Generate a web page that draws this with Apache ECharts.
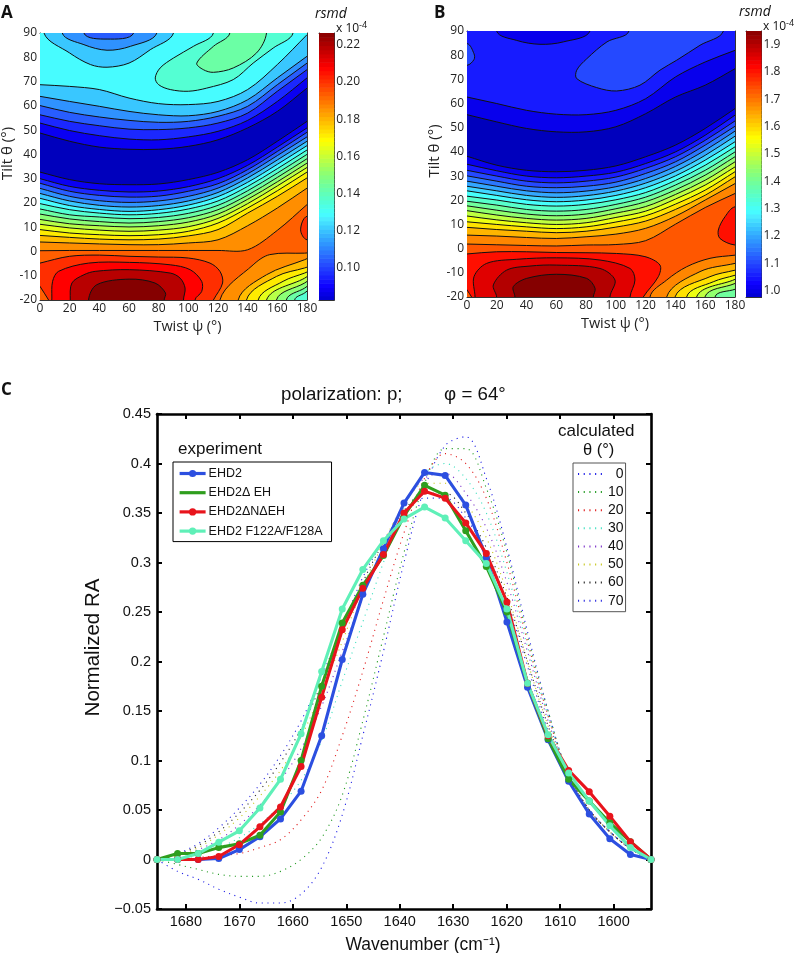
<!DOCTYPE html>
<html><head><meta charset="utf-8">
<style>html,body{margin:0;padding:0;background:#fff}#c{width:795px;height:953px}</style>
<script src="https://cdn.jsdelivr.net/npm/echarts@6/dist/echarts.min.js"></script>
</head><body><div id="c"></div>
<script>
// ---------- Panel C data ----------
const wavenumber=[1685.4,1681.55,1677.7,1673.85,1670,1666.15,1662.3,1658.45,1654.6,1650.75,1646.9,1643.05,1639.2,1635.35,1631.5,1627.65,1623.8,1619.95,1616.1,1612.25,1608.4,1604.55,1600.7,1596.85,1593];
const ehd2=[0,0,0,0.001,0.01,0.023,0.041,0.069,0.125,0.202,0.268,0.314,0.36,0.391,0.388,0.358,0.305,0.24,0.174,0.121,0.079,0.046,0.021,0.005,0];
const ehd2dEH=[0,0.006,0.006,0.012,0.016,0.0245,0.048,0.1,0.175,0.239,0.277,0.307,0.347,0.378,0.368,0.332,0.296,0.25,0.178,0.122,0.081,0.059,0.037,0.018,0];
const ehd2dNdEH=[0,0,0,0.003,0.015,0.033,0.053,0.094,0.164,0.232,0.274,0.308,0.35,0.372,0.365,0.34,0.309,0.26,0.178,0.125,0.09,0.0685,0.0437,0.018,0];
const ehd2F122=[0,0,0.006,0.0175,0.029,0.052,0.081,0.127,0.19,0.253,0.293,0.322,0.344,0.356,0.345,0.322,0.299,0.253,0.178,0.126,0.0875,0.059,0.034,0.012,0];
const calc0=[0,-0.012,-0.02,-0.03,-0.038,-0.044,-0.044,-0.035,-0.008,0.045,0.125,0.21,0.3,0.375,0.418,0.427,0.385,0.315,0.23,0.15,0.085,0.05,0.028,0.011,0];
const calc10=[0,-0.005,-0.01,-0.015,-0.017,-0.017,-0.012,0,0.022,0.065,0.14,0.225,0.31,0.38,0.415,0.415,0.375,0.31,0.225,0.15,0.085,0.05,0.028,0.011,0];
const calc20=[0,0,0.002,0.004,0.006,0.012,0.02,0.04,0.07,0.125,0.19,0.262,0.33,0.385,0.41,0.4,0.365,0.3,0.22,0.145,0.085,0.05,0.028,0.011,0];
const calc30=[0,0.002,0.006,0.012,0.022,0.036,0.055,0.08,0.12,0.18,0.24,0.3,0.355,0.39,0.4,0.385,0.35,0.29,0.215,0.145,0.085,0.05,0.028,0.011,0];
const calc40=[0,0.003,0.01,0.02,0.035,0.055,0.08,0.112,0.155,0.21,0.265,0.315,0.36,0.385,0.39,0.37,0.335,0.28,0.21,0.14,0.085,0.05,0.028,0.011,0];
const calc50=[0,0.004,0.012,0.025,0.042,0.064,0.09,0.124,0.17,0.22,0.275,0.32,0.358,0.38,0.38,0.36,0.325,0.27,0.2,0.135,0.085,0.05,0.028,0.011,0];
const calc60=[0,0.005,0.014,0.028,0.047,0.07,0.098,0.132,0.178,0.228,0.28,0.32,0.352,0.37,0.37,0.35,0.315,0.265,0.2,0.135,0.085,0.05,0.028,0.011,0];
const calc70=[0,0.006,0.016,0.032,0.052,0.076,0.105,0.14,0.185,0.235,0.285,0.322,0.35,0.365,0.365,0.345,0.31,0.26,0.195,0.13,0.082,0.05,0.028,0.011,0];
const calcNames=['0','10','20','30','40','50','60','70'];
const expNames=['EHD2','EHD2\u0394 EH','EHD2\u0394N\u0394EH','EHD2 F122A/F128A'];
const xTicksC=[1600,1610,1620,1630,1640,1650,1660,1670,1680];

// ---------- Contour panels: tilt of each level line read at these twist angles ----------
const psiGrid=[0,20,40,60,80,100,120,140,160,180];
// Panel A, level lines on the low-tilt side of the blue trough, level 1..15
const aLowerLines=[
[32.7,29.6,27.9,27.5,27.8,29.6,32.6,37.8,45.4,53.6],
[30.0,26.8,25.2,24.5,24.9,26.7,30.0,35.5,43.0,50.9],
[28.1,24.8,23.1,22.4,22.8,24.8,27.9,33.7,41.2,49.1],
[26.0,22.7,20.9,20.2,20.8,22.7,26.1,32.0,39.5,47.2],
[23.9,20.8,19.0,18.3,18.9,20.8,24.3,30.3,37.7,45.4],
[21.9,18.9,17.3,16.5,17.2,19.1,22.6,28.5,35.9,43.6],
[19.7,17.2,15.8,15.1,15.7,17.5,20.8,26.8,34.1,41.8],
[17.5,15.1,14.2,13.5,14.0,15.7,19.0,25.0,32.3,40.0],
[15.4,13.4,12.3,11.7,12.3,13.9,17.2,23.2,30.5,38.2],
[13.2,11.4,10.6,10.1,10.6,12.1,15.4,21.5,28.7,36.4],
[11.2,9.7,8.8,8.3,8.8,10.2,13.6,19.7,27.0,34.6],
[9.0,7.6,6.9,6.5,6.9,8.3,11.7,17.9,25.0,32.7],
[6.6,5.8,5.1,4.8,5.1,6.4,9.0,15.8,22.7,30.3],
[3.9,3.5,3.1,2.8,2.8,3.5,4.8,10.6,17.9,26.1],
[0.3,0.4,0.4,0.4,0.4,0.4,0.4,0.7,8.7,19.3]];
// Panel A, level lines on the high-tilt side of the trough, level 1..6
const aUpperLines=[
[48.8,45.4,43.0,42.1,42.1,43.3,46.0,50.9,57.7,67.3],
[52.9,49.8,47.7,46.3,46.0,47.2,49.5,54.0,61.8,71.5],
[56.3,53.6,51.8,50.4,50.2,50.9,52.9,57.0,66.0,74.9],
[60.1,57.3,55.4,54.0,53.2,53.6,55.7,59.8,68.7,77.6],
[63.9,61.8,59.8,57.7,56.3,55.9,57.7,62.5,71.5,80.4],
[68.7,68.0,66.7,63.2,60.9,60.5,61.8,66.7,77.0,89.3]];
// Panel A closed pieces: [twist, tilt] along each level line
const aTop6=[[2.7,90],[19.9,81.8],[34,77],[45.2,75.9],[60,77.6],[74.3,83.1],[90,90]];
const aTop5=[[15,90],[29.6,85.2],[45.2,82.9],[60.9,84.5],[78.8,90]];
const aTop4=[[29.6,90],[45.2,87.5],[63.1,90]];
const aIsle7=[[116.9,90],[103.4,84.5],[90,79.7],[81,75.6],[77.7,71.5],[80,68.7],[87.8,66.7],[100,66],[112.4,67.3],[130.3,70.8],[143.7,77.6],[157.2,83.8],[170.6,90]];
const aIsle8=[[128,90],[116.9,84.5],[105.7,77.6],[110.1,74.9],[116.9,73.8],[130.3,75.6],[146,81.8],[152.7,90]];
const aPeak16=[[-4,-5.5],[0,-4.8],[19.9,-2.0],[40.1,-1.5],[60,-2.0],[79.9,-2.3],[100,-2.7],[114.6,-4.8],[121.3,-8.2],[123.1,-13],[116.9,-20],[114,-24],[8,-24],[5.8,-20],[0,-14.4],[-4,-9]];
const aPeak17=[[8,-19.2],[8.5,-12.3],[12.5,-8.2],[32.7,-4.8],[60.2,-4.5],[87.8,-5.5],[101.2,-7.5],[109,-12.3],[109,-16.5],[104.5,-20]];
const aPeak18=[[20.4,-20],[21.5,-13],[29.6,-9.6],[37.2,-8.2],[60.2,-7.5],[87.8,-8.9],[94.5,-11],[97.8,-15.1],[96.7,-20]];
const aPeak19=[[32.7,-20],[38.3,-13.7],[60.2,-11.4],[77.5,-13],[84.6,-17.1],[83.7,-20]];
const aCorner=[
[[121.3,-20],[143.7,-5.5],[154.9,-1.3],[178.4,-0.7]],
[[133.6,-20],[152.7,-9.6],[178.4,-3.4]],
[[139.2,-20],[159.4,-10.3],[178.4,-6.8]],
[[147.1,-20],[163.9,-12.3],[178.4,-8.9]],
[[152.7,-20],[178.4,-11]],
[[159.4,-20],[178.4,-13]],
[[166.1,-20],[178.4,-15.1]],
[[171.7,-20],[178.4,-17.1]]];
const aEdge16=[[180,14.5],[175.7,8.9],[180,4.8]];

// Panel B, same reading, level 1..16
const bLowerLines=[
[38.2,34.5,32.4,31.8,32.4,34.2,38.0,42.8,49.7,57.9],
[34.9,32.2,30.0,29.3,30.0,31.6,35.2,40.0,46.9,55.2],
[32.4,30.0,27.9,27.2,27.9,29.6,33.2,38.0,44.8,52.8],
[30.1,27.9,25.8,25.2,25.8,27.5,31.1,35.9,42.8,50.6],
[27.9,25.8,23.9,23.1,23.8,25.6,29.0,34.0,40.7,48.6],
[25.8,23.9,22.0,21.2,21.9,23.8,27.1,32.0,38.6,46.5],
[23.9,22.0,20.2,19.4,20.1,22.0,25.2,30.1,36.6,44.2],
[21.7,20.1,18.3,17.6,18.3,20.2,23.2,28.2,34.5,42.1],
[19.6,18.0,16.2,15.5,16.2,18.3,21.3,26.3,32.4,40.0],
[17.7,15.9,14.3,13.6,14.3,16.5,19.4,24.3,30.4,38.0],
[15.7,13.9,12.5,11.8,12.5,14.7,17.4,22.4,28.3,35.9],
[13.5,11.9,10.7,10.0,10.7,12.9,15.5,20.5,26.3,33.8],
[11.1,10.0,9.0,8.3,9.0,11.0,13.6,18.4,24.2,31.8],
[8.8,7.9,7.2,6.6,7.2,8.9,11.4,16.2,22.1,29.7],
[5.6,5.2,4.6,4.2,4.9,6.0,8.4,13.4,20.1,26.9],
[1.9,1.6,1.3,1.1,1.5,1.7,3.3,10.1,17.0,22.8]];
const bUpperLines=[
[55.4,52.4,49.7,48.3,48.3,50.4,55.8,62.7,67.6,74.4],
[62.7,60.0,57.2,55.6,55.4,57.2,62.0,71.0,77.2,82.0]];
const bTop2=[[19.9,90],[33.4,86.1],[49,84.5],[64.7,85.5],[82.6,90]];
const bIsle3=[[108.8,90],[94,85.5],[80.4,78.5],[73.7,73.8],[73.7,70.3],[87.1,66.6],[100.5,65.2],[116.2,67.6],[129.6,73.8],[140.8,77.9],[156.5,84.1],[172.2,90]];
const bEdge3=[[0,84.8],[4.7,80.6],[4.7,78.2],[0,75.8]];
const bPeak17=[[-4,-2.6],[0,-2.2],[19.9,-1.3],[40.1,-1.3],[60,-1.6],[79.9,-1.7],[100.5,-2],[119.5,-3.3],[129.6,-6.8],[128.5,-11.6],[118.4,-20],[116,-24],[6,-24],[3.1,-20],[0,-17.1],[-4,-13]];
const bPeak18=[[5.4,-20],[4.7,-11.6],[13.2,-6.1],[33.4,-4.4],[60,-3.8],[89.3,-4.7],[109.5,-8.2],[112.8,-13],[109.5,-20]];
const bPeak19=[[19.9,-20],[17.7,-15],[26.6,-8.9],[42.3,-7.2],[60,-6.8],[89.3,-8.2],[99.4,-13],[96,-20]];
const bPeak20=[[32.2,-20],[31.1,-15.7],[40.1,-12.3],[60,-10.6],[80.4,-12.3],[86,-16.4],[84.8,-20]];
const bCorner=[
[[122.9,-20],[134.1,-13],[147.5,-7.5],[163.2,-4],[180,-2.7]],
[[134.1,-20],[156.5,-9.5],[180,-6.1]],
[[139.7,-20],[163.2,-11.6],[180,-8.9]],
[[147.5,-20],[165.4,-13.7],[180,-11]],
[[154.2,-20],[180,-12.7]],
[[159.8,-20],[180,-14.4]],
[[166.6,-20],[180,-16.8]]];
const bEdge17=[[180,17.3],[173.3,13.2],[168.8,7.7],[169.9,4.2],[180,1.5]];

const cbarA={min:0.0828,max:0.2263,ticks:[0.10,0.12,0.14,0.16,0.18,0.20,0.22],dec:2};
const cbarB={min:0.976,max:1.95,ticks:[1.0,1.1,1.2,1.3,1.4,1.5,1.6,1.7,1.8,1.9],dec:1};
// where each filled band of a panel sits on the colour scale
const bandPosA=[0.06,0.112,0.164,0.216,0.268,0.32,0.372,0.418,0.463,0.509,0.554,0.6,0.645,0.691,0.736,0.782,0.83,0.875,0.945,0.995];
const bandPosB=[0.06,0.106,0.151,0.197,0.242,0.288,0.334,0.379,0.425,0.47,0.516,0.562,0.607,0.653,0.698,0.744,0.79,0.86,0.905,0.95,0.995];

// ---------- helpers ----------
function jet(t){
  const c=x=>Math.max(0,Math.min(1,x));
  let r=c(Math.min(4*t-1.5,-4*t+4.5)),g=c(Math.min(4*t-0.5,-4*t+3.5)),b=c(Math.min(4*t+0.5,-4*t+2.5));
  const wash=Math.max(0,1-Math.abs(t-0.36)/0.16)*0.3;
  r=r+(1-r)*wash;
  const wb=Math.max(0,1-Math.abs(t-0.2)/0.12)*0.15;
  r=r+(1-r)*wb;
  return 'rgb('+Math.round(r*255)+','+Math.round(g*255)+','+Math.round(b*255)+')';
}
const bandA=k=>jet(bandPosA[k]);
const bandB=k=>jet(bandPosB[k]);
function poly(ax,pts,fill,closure,noStroke){
  return {type:'custom',coordinateSystem:'cartesian2d',xAxisIndex:ax,yAxisIndex:ax,clip:true,silent:true,animation:false,
    data:pts,encode:{x:0,y:1},
    renderItem(params,api){
      if(params.dataIndex!==0) return null;
      const all=closure(pts).map(p=>api.coord(p));
      return {type:'polygon',shape:{points:all,smooth:0.33},style:{fill:fill,stroke:noStroke?null:'#111',lineWidth:1}};
    }};
}
const closeAll=p=>p;
const closeUp=p=>[...p,[p[p.length-1][0],115],[p[0][0],115]];
const closeDown=p=>[...p,[p[p.length-1][0],-45],[p[0][0],-45]];
const closeRight=p=>[...p,[205,p[p.length-1][1]],[205,p[0][1]]];
const closeCorner=p=>{
  const a=p[p.length-2],b=p[p.length-1],s=(b[1]-a[1])/(b[0]-a[0]);
  return [...p,[205,b[1]+s*(205-b[0])],[205,-60],[p[0][0]-2,-60]];
};
const closeLine=p=>{
  const n=p.length,l=[-20,p[0][1]+(p[0][1]-p[1][1])],r=[200,p[n-1][1]+(p[n-1][1]-p[n-2][1])];
  return [l,...p,r,[200,140],[-20,140]];
};
const onGrid=row=>row.map((v,i)=>[psiGrid[i],v]);

function panelSeries(ax,lower,upper,band,extras){
  const s=[];
  s.push(poly(ax,[[-20,-60],[200,-60],[200,140],[-20,140]],band(lower.length),closeAll,true));
  for(let i=lower.length-1;i>=0;i--) s.push(poly(ax,onGrid(lower[i]),band(i),closeLine));
  upper.forEach((row,i)=>s.push(poly(ax,onGrid(row),band(i+1),closeLine)));
  extras.forEach(e=>s.push(poly(ax,e[0],band(e[1]),e[2])));
  return s;
}
const aExtras=[[aTop6,5,closeUp],[aTop5,4,closeUp],[aTop4,3,closeUp],[aIsle7,7,closeUp],[aIsle8,8,closeUp],
  [aPeak16,16,closeAll],[aPeak17,17,closeDown],[aPeak18,18,closeDown],[aPeak19,19,closeDown],
  ...aCorner.map((c,i)=>[c,14-i,closeCorner]),[aEdge16,16,closeRight]];
const bExtras=[[bTop2,1,closeUp],[bIsle3,3,closeUp],[bEdge3,3,p=>[...p,[-25,p[p.length-1][1]],[-25,p[0][1]]]],
  [bPeak17,17,closeAll],[bPeak18,18,closeDown],[bPeak19,19,closeDown],[bPeak20,20,closeDown],
  ...bCorner.map((c,i)=>[c,15-i,closeCorner]),[bEdge17,17,closeRight]];

function cbarSeries(ax,cb){
  const n=64,vals=[];
  for(let i=0;i<n;i++) vals.push(cb.min+(cb.max-cb.min)*i/n);
  const step=(cb.max-cb.min)/n;
  return {type:'custom',coordinateSystem:'cartesian2d',xAxisIndex:ax,yAxisIndex:ax,clip:true,silent:true,animation:false,
    data:vals.map(v=>[0.5,v]),encode:{x:0,y:1},
    renderItem(params,api){
      const v=api.value(1),a=api.coord([0,v]),b=api.coord([1,v+step]);
      const u=(v-cb.min)/(cb.max-cb.min);
      return {type:'rect',shape:{x:a[0],y:b[1],width:b[0]-a[0],height:a[1]-b[1]+0.6},style:{fill:jet(0.085+0.915*u)}};
    }};
}

const grids=[
 {left:40,top:33,width:267,height:267,outerBoundsMode:'none'},
 {left:319,top:33,width:15.3,height:267,outerBoundsMode:'none'},
 {left:467,top:31,width:268,height:266,outerBoundsMode:'none'},
 {left:746,top:31,width:15.6,height:266,outerBoundsMode:'none'},
 {left:157,top:414,width:494,height:495,outerBoundsMode:'none'}];
const mapFont='"Open Sans"', cFont='"Liberation Sans"';
const thin={show:true,onZero:false,lineStyle:{color:'#333',width:1}};
const tickIn={show:true,inside:true,length:3,lineStyle:{color:'#333',width:0.8}};
const mapX=(g,name)=>({gridIndex:g,type:'value',min:0,max:180,interval:20,name:name,nameLocation:'middle',nameGap:19,
  nameTextStyle:{fontFamily:mapFont,fontSize:14.5,color:'#222',padding:[0,0,0,28]},
  axisLine:thin,axisTick:tickIn,splitLine:{show:false},axisLabel:{fontFamily:mapFont,fontSize:12,color:'#222',margin:3,hideOverlap:false}});
const mapY=(g,name)=>({gridIndex:g,type:'value',min:-20,max:90,interval:10,name:name,nameLocation:'middle',nameGap:24,
  nameTextStyle:{fontFamily:mapFont,fontSize:15,color:'#222',padding:[0,0,0,26]},
  axisLine:thin,axisTick:tickIn,splitLine:{show:false},axisLabel:{fontFamily:mapFont,fontSize:12,color:'#222',margin:3,hideOverlap:false}});
const plainX=(g,pos,min,max,iv,tick)=>({gridIndex:g,type:'value',position:pos,min:min,max:max,interval:iv,axisLine:thin,axisTick:tick,axisLabel:{show:false},splitLine:{show:false}});
const plainY=(g,pos,min,max,iv,tick)=>({gridIndex:g,type:'value',position:pos,min:min,max:max,interval:iv,axisLine:thin,axisTick:tick,axisLabel:{show:false},splitLine:{show:false}});
const cbarY=(g,cb)=>({gridIndex:g,type:'value',position:'right',min:cb.min,max:cb.max,
  axisLine:thin,splitLine:{show:false},
  axisTick:{show:true,inside:true,length:3,customValues:cb.ticks,lineStyle:{color:'#222',width:0.8}},
  axisLabel:{customValues:cb.ticks,fontFamily:mapFont,fontSize:12,color:'#222',margin:2,formatter:v=>v.toFixed(cb.dec),hideOverlap:false}});
const bold={show:true,onZero:false,lineStyle:{color:'#000',width:2.6}};
const tickC={show:true,inside:true,length:5,lineStyle:{color:'#000',width:2}};
const xAxisC=(pos,lab)=>({gridIndex:4,type:'value',position:pos,inverse:true,min:1593,max:1685.4,
  name:lab?'Wavenumber (cm\u207B\u00B9)':'',nameLocation:'middle',nameGap:27,
  nameTextStyle:{fontFamily:cFont,fontSize:17.5,color:'#111',padding:[0,0,0,38]},
  axisLine:bold,splitLine:{show:false},
  axisTick:{...tickC,customValues:xTicksC},
  axisLabel:{show:lab,customValues:xTicksC,fontFamily:cFont,fontSize:14.5,color:'#111',margin:5,formatter:v=>String(v)}});
const yAxisC=(pos,lab)=>({gridIndex:4,type:'value',position:pos,min:-0.05,max:0.45,interval:0.05,
  name:lab?'Normalized RA':'',nameLocation:'middle',nameGap:48,
  nameTextStyle:{fontFamily:cFont,fontSize:20.5,color:'#111',padding:[0,0,0,28]},
  axisLine:bold,splitLine:{show:false},axisTick:tickC,
  axisLabel:{show:lab,fontFamily:cFont,fontSize:14.5,color:'#111',margin:6,hideOverlap:false,
    formatter:v=>{const r=Math.round(v*100)/100;return r<0?'\u2212'+(-r):String(r);}}});

const zip=a=>a.map((v,i)=>[wavenumber[i],v]);
const calcColors=['#1a1ae6','#1f9a1f','#e01a1a','#3fe0c0','#7a2fc8','#c8c81e','#222222','#2a2ae0'];
const calcData=[calc0,calc10,calc20,calc30,calc40,calc50,calc60,calc70];
const expData=[ehd2,ehd2dEH,ehd2dNdEH,ehd2F122];
const expColors=['#2c4fe0','#2f9e1e','#e8141c','#5ff0b8'];
const calcSeries=calcData.map((d,i)=>({type:'line',name:calcNames[i],xAxisIndex:4,yAxisIndex:4,data:zip(d),smooth:0.35,symbol:'none',animation:false,silent:true,
  lineStyle:{color:calcColors[i],width:1.1,type:[1.1,4.6]},itemStyle:{color:calcColors[i]},z:3}));
const expSeries=expData.map((d,i)=>({type:'line',name:expNames[i],xAxisIndex:4,yAxisIndex:4,data:zip(d),symbol:'circle',symbolSize:7,animation:false,silent:true,
  lineStyle:{color:expColors[i],width:3.1},itemStyle:{color:expColors[i]},z:4}));

const txt=(x,y,text,font,extra)=>({type:'text',left:x,top:y,silent:true,style:Object.assign({text:text,font:font,fill:'#111'},extra||{})});
const option={
  backgroundColor:'#fff',animation:false,
  grid:grids,
  xAxis:[mapX(0,'Twist \u03C8 (\u00B0)'),plainX(1,'bottom',0,1,1,{show:false}),mapX(2,'Twist \u03C8 (\u00B0)'),plainX(3,'bottom',0,1,1,{show:false}),xAxisC('bottom',true),xAxisC('top',false),
    plainX(0,'top',0,180,20,tickIn),plainX(2,'top',0,180,20,tickIn),plainX(1,'top',0,1,1,{show:false}),plainX(3,'top',0,1,1,{show:false})],
  yAxis:[mapY(0,'Tilt \u03B8 (\u00B0)'),cbarY(1,cbarA),mapY(2,'Tilt \u03B8 (\u00B0)'),cbarY(3,cbarB),yAxisC('left',true),yAxisC('right',false),
    plainY(0,'right',-20,90,10,tickIn),plainY(2,'right',-20,90,10,tickIn),
    {...plainY(1,'left',cbarA.min,cbarA.max,undefined,{show:false})},{...plainY(3,'left',cbarB.min,cbarB.max,undefined,{show:false})}],
  title:{text:'polarization: p;        \u03C6 = 64\u00B0',left:281,top:385,textStyle:{fontFamily:cFont,fontSize:18.7,fontWeight:'normal',color:'#111'},padding:0},
  legend:[
   {data:expNames.map((n,i)=>({name:n,itemStyle:{opacity:i===1?0:1},lineStyle:{width:3.2,color:expColors[i],opacity:1}})),left:173,top:462,orient:'vertical',itemWidth:26,itemHeight:9,itemGap:6.2,
    padding:[5,9,4,5],borderColor:'#000',borderWidth:1,backgroundColor:'#fff',selectedMode:false,
    textStyle:{fontFamily:cFont,fontSize:12.5,color:'#111',padding:[0,0,0,-2]}},
   {data:calcNames.map(n=>({name:n,itemStyle:{opacity:0}})),left:573,top:463,orient:'vertical',itemWidth:25,itemHeight:8,itemGap:4.1,
    padding:[4,2,4,4],borderColor:'#555',borderWidth:1,backgroundColor:'#fff',selectedMode:false,
    formatter:n=>n.length<2?'\u2007'+n:n,
    textStyle:{fontFamily:cFont,fontSize:14,color:'#111'}}],
  graphic:[
    txt(1,5,'A','bold 17px "Open Sans"'),
    txt(434,5,'B','bold 17px "Open Sans"'),
    txt(1,382,'C','bold 17px "Open Sans"'),
    txt(315,7,'rsmd','italic 14px "Open Sans"'),
    txt(336,21,'x 10{s|-4}','12px "Open Sans"',{rich:{s:{font:'9px "Open Sans"',verticalAlign:'top',padding:[0,0,6,0]}}}),
    txt(739,5,'rsmd','italic 14px "Open Sans"'),
    txt(763,19,'x 10{s|-4}','12px "Open Sans"',{rich:{s:{font:'9px "Open Sans"',verticalAlign:'top',padding:[0,0,6,0]}}}),
    txt(178,441,'experiment','17px "Liberation Sans"'),
    txt(558,423,'calculated','17px "Liberation Sans"'),
    txt(583,442,'\u03B8 (\u00B0)','16.5px "Liberation Sans"')
  ],
  series:[
    ...panelSeries(0,aLowerLines,aUpperLines,bandA,aExtras),
    cbarSeries(1,cbarA),
    ...panelSeries(2,bLowerLines,bUpperLines,bandB,bExtras),
    cbarSeries(3,cbarB),
    ...calcSeries,...expSeries]
};
echarts.init(document.getElementById('c'),null,{renderer:'canvas'}).setOption(option);
</script></body></html>
